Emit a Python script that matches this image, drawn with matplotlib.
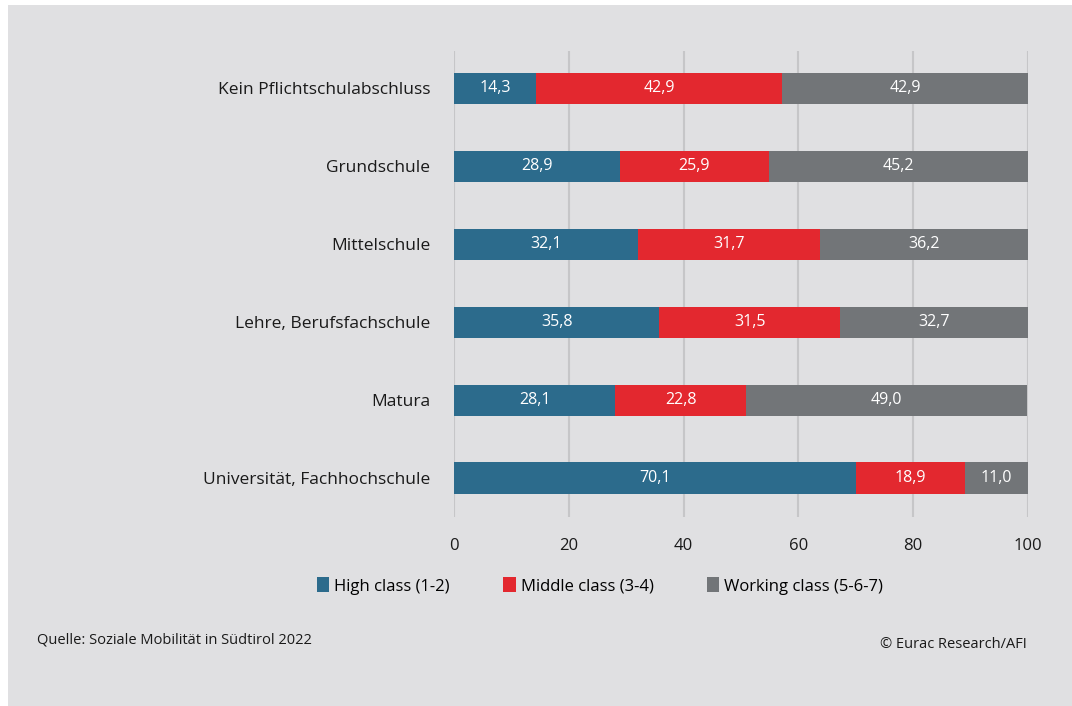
import matplotlib.pyplot as plt
from matplotlib.patches import Rectangle, Patch

# Daten
kategorien = ["Kein Pflichtschulabschluss", "Grundschule", "Mittelschule",
              "Lehre, Berufsfachschule", "Matura", "Universität, Fachhochschule"]
high_class = [14.3, 28.9, 32.1, 35.8, 28.1, 70.1]
middle_class = [42.9, 25.9, 31.7, 31.5, 22.8, 18.9]
working_class = [42.9, 45.2, 36.2, 32.7, 49.0, 11.0]
serien_namen = ["High class (1-2)", "Middle class (3-4)", "Working class (5-6-7)"]
x_ticks = [0, 20, 40, 60, 80, 100]

farben = ["#2c6b8c", "#e3282f", "#727578"]
hintergrund = "#e0e0e2"

plt.rcParams['font.family'] = ['Open Sans', 'DejaVu Sans']

fig = plt.figure(figsize=(10.72, 7.06), dpi=100, facecolor="white")
fig.patches.append(Rectangle((8 / 1072, 0), 1, 1 - 5 / 706, transform=fig.transFigure,
                             facecolor=hintergrund, edgecolor="none", zorder=-10))

ax = fig.add_axes([454 / 1072, 1 - 517 / 706, (1028 - 454) / 1072, (517 - 51) / 706])
ax.set_facecolor("none")

y = list(range(len(kategorien)))
links = [0] * len(kategorien)
for werte, farbe in zip([high_class, middle_class, working_class], farben):
    bars = ax.barh(y, werte, left=links, height=0.4, color=farbe, zorder=3)
    for b, v in zip(bars, werte):
        ax.text(b.get_x() + b.get_width() / 2, b.get_y() + b.get_height() / 2,
                f"{v:.1f}".replace(".", ","), color="white", fontsize=11.5,
                ha="center", va="center", zorder=4)
    links = [l + v for l, v in zip(links, werte)]

ax.set_xlim(0, 100)
ax.set_ylim(5.5, -0.48)
ax.set_xticks(x_ticks)
ax.set_xticklabels([str(t) for t in x_ticks], fontsize=12)
ax.set_yticks(y)
ax.set_yticklabels(kategorien, fontsize=12.5)
ax.tick_params(axis="both", length=0, colors="#1a1a1a")
ax.tick_params(axis="y", pad=17)
ax.tick_params(axis="x", pad=15)
for s in ax.spines.values():
    s.set_visible(False)
ax.grid(axis="x", color="#c6c6c8", linewidth=1.5, zorder=0)
ax.set_axisbelow(True)

handles = [Patch(facecolor=f, edgecolor="none") for f in farben]
fig.legend(handles, serien_namen, loc="center", bbox_to_anchor=(600 / 1072, 1 - 586 / 706),
           ncol=3, frameon=False, fontsize=12, handlelength=0.75, handleheight=1.0,
           handletextpad=0.3, columnspacing=3.2)

fig.text(37 / 1072, 1 - 640 / 706, "Quelle: Soziale Mobilität in Südtirol 2022",
         fontsize=10.5, va="center", ha="left", color="#1a1a1a")
fig.text(1027 / 1072, 1 - 645 / 706, "© Eurac Research/AFI",
         fontsize=10.5, va="center", ha="right", color="#1a1a1a")

fig.savefig("out.png", dpi=100, facecolor="white")
